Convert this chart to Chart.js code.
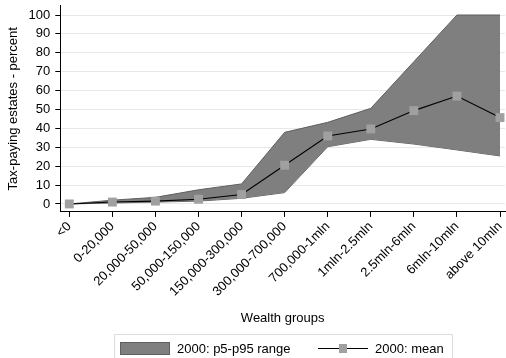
<!DOCTYPE html>
<html><head><meta charset="utf-8">
<script src="https://cdn.jsdelivr.net/npm/chart.js@4/dist/chart.umd.min.js"></script>
<style>
html,body{margin:0;padding:0;background:#fff;overflow:hidden}
#wrap{position:relative;width:506px;height:358px;overflow:hidden}
#legend{position:absolute;left:114px;top:334px;width:339px;height:40px;border:1px solid #dcdcdc;box-sizing:border-box;font-family:'Liberation Sans',Arial,sans-serif;font-size:13px;color:#000}
#legend .it{position:absolute;top:6px;height:14px;display:flex;align-items:center;white-space:nowrap}
#legend canvas{display:block;margin-right:7px}
</style>
</head><body><div id="wrap"><canvas id="c" width="506" height="358"></canvas><div id="legend"></div></div>
<script>
const categories = ["<0","0-20,000","20,000-50,000","50,000-150,000","150,000-300,000","300,000-700,000","700,000-1mln","1mln-2.5mln","2.5mln-6mln","6mln-10mln","above 10mln"];
const meanValues = [0, 1, 1.5, 2.5, 5, 20.5, 36, 39.7, 49.4, 57.1, 45.7];
const p5Values   = [0, 0.5, 1, 1.5, 3, 6, 30.3, 34.2, 31.7, 28.6, 25.4];
const p95Values  = [0, 2, 3.5, 7.5, 10.6, 37.9, 43.2, 50.6, 75.3, 100, 100];
const yTicks = [0,10,20,30,40,50,60,70,80,90,100];
const seriesNames = ["2000: p5-p95 range", "2000: mean"];

const FONT = "'Liberation Sans', Arial, sans-serif";
const BAND = '#7f7f7f', BAND_EDGE = '#5f5f5f', MARK = '#a0a0a0';

function mkRectImg(){const c=document.createElement('canvas');c.width=50;c.height=13;const x=c.getContext('2d');x.fillStyle=BAND;x.fillRect(0,0,50,13);x.strokeStyle=BAND_EDGE;x.lineWidth=1;x.strokeRect(0.5,0.5,49,12);return c;}
function mkLineImg(){const c=document.createElement('canvas');c.width=50;c.height=13;const x=c.getContext('2d');x.strokeStyle='#000';x.lineWidth=1;x.beginPath();x.moveTo(0,6.5);x.lineTo(50,6.5);x.stroke();x.fillStyle=MARK;x.fillRect(21,2,8,9);return c;}

const chart = new Chart(document.getElementById('c'),{
  type:'line',
  data:{datasets:[
    {label:'p5',data:p5Values.map((v,i)=>({x:i,y:v})),borderColor:BAND_EDGE,borderWidth:1,pointRadius:0,fill:false,order:3},
    {label:seriesNames[0],data:p95Values.map((v,i)=>({x:i,y:v})),borderColor:BAND_EDGE,borderWidth:1,backgroundColor:BAND,pointRadius:0,fill:0,order:2},
    {label:seriesNames[1],data:meanValues.map((v,i)=>({x:i,y:v})),borderColor:'#000',borderWidth:1.1,pointStyle:'rect',pointRadius:6.3,pointBackgroundColor:MARK,pointBorderWidth:0,fill:false,order:1,clip:false}
  ]},
  options:{
    animation:false,responsive:false,
    layout:{autoPadding:false,padding:{left:1,right:1,top:0,bottom:30}},
    plugins:{tooltip:{enabled:false},legend:{display:false}},
    scales:{
      x:{type:'linear',min:-0.209,max:10.116,
        afterBuildTicks:(s)=>{s.ticks=categories.map((_,i)=>({value:i}));},
        afterFit:(s)=>{s.paddingRight=0;},
        ticks:{autoSkip:false,maxRotation:45,minRotation:45,color:'#000',font:{family:FONT,size:13},padding:2,callback:(v)=>categories[v]},
        grid:{drawOnChartArea:false,drawTicks:true,tickLength:5,tickColor:'#000'},
        border:{color:'#000',width:1},
        title:{display:true,text:'Wealth groups',color:'#000',font:{family:FONT,size:13},padding:{top:8.9,bottom:2}}
      },
      y:{min:-4.23,max:105.03,
        afterBuildTicks:(s)=>{s.ticks=yTicks.map(v=>({value:v}));},
        afterFit:(s)=>{s.paddingTop=5.5;},
        ticks:{color:'#000',font:{family:FONT,size:13},padding:5},
        grid:{color:'#e8e8e8',lineWidth:1,tickLength:5,tickColor:'#000'},
        border:{color:'#000',width:1},
        title:{display:true,text:'Tax-paying estates - percent',color:'#000',font:{family:FONT,size:13},padding:{top:5,bottom:2}}
      }
    }
  }
});

// HTML legend built from the chart's datasets
(function(){
  const lg=document.getElementById('legend');
  const items=[{img:mkRectImg(),text:chart.data.datasets[1].label,left:5},{img:mkLineImg(),text:chart.data.datasets[2].label,left:203}];
  items.forEach(it=>{const d=document.createElement('div');d.className='it';d.style.left=it.left+'px';d.appendChild(it.img);const s=document.createElement('span');s.textContent=it.text;d.appendChild(s);lg.appendChild(d);});
})();
</script></body></html>
